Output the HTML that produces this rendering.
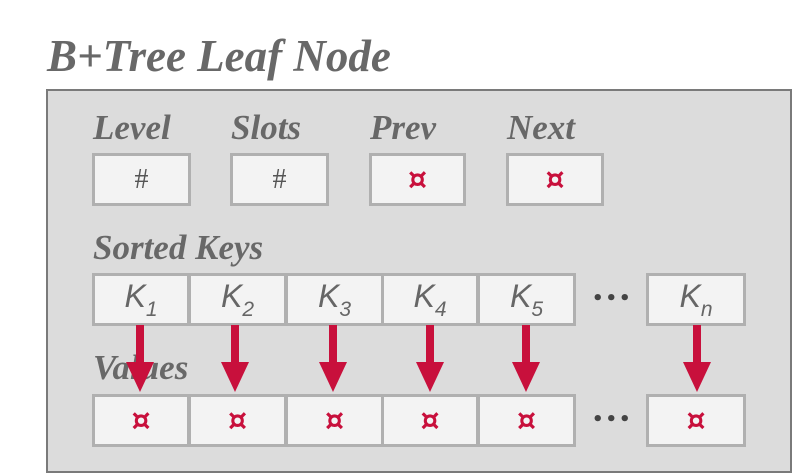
<!DOCTYPE html>
<html><head><style>
body{margin:0;width:798px;height:460px;background:#fff;position:relative;overflow:hidden;font-family:"Liberation Serif",serif;}
.t{position:absolute;font-style:italic;font-weight:bold;color:#686868;white-space:nowrap;}
.outer{position:absolute;left:46px;top:89px;width:742px;height:380px;background:#dcdcdc;border:2px solid #7a7a7a;}
.b{position:absolute;box-sizing:border-box;background:#f3f3f3;border:3px solid #b0b0b0;height:53px;display:flex;align-items:center;justify-content:center;color:#555;}
.h{font-family:"Liberation Serif",serif;font-size:28px;}
.k{font-family:"Liberation Sans",sans-serif;font-style:italic;font-size:32px;color:#666;}
.k span sub{font-size:21px;vertical-align:-9px;}
.p{color:#c8103c;font-size:30px;font-family:"DejaVu Sans",sans-serif;font-weight:bold;}
.dots{position:absolute;font-size:18px;color:#444;font-family:"DejaVu Sans",sans-serif;font-weight:bold;letter-spacing:2px;}
</style></head><body>
<div class="t" style="left:47px;top:30px;font-size:45px;">B+Tree Leaf Node</div>
<div class="outer"></div>
<div class="t" style="left:93px;top:108px;font-size:35px;">Level</div>
<div class="t" style="left:231px;top:108px;font-size:35px;">Slots</div>
<div class="t" style="left:370px;top:108px;font-size:35px;">Prev</div>
<div class="t" style="left:507px;top:108px;font-size:35px;">Next</div>
<div class="b h" style="left:92px;top:153px;width:99px;">#</div>
<div class="b h" style="left:230px;top:153px;width:99px;">#</div>
<div class="b p" style="left:369px;top:153px;width:97px;">¤</div>
<div class="b p" style="left:506px;top:153px;width:98px;">¤</div>
<div class="t" style="left:93px;top:228px;font-size:35px;">Sorted Keys</div>
<div class="b k" style="left:92px;top:273px;width:98px;"><span>K<sub>1</sub></span></div>
<div class="b k" style="left:188px;top:273px;width:99px;"><span>K<sub>2</sub></span></div>
<div class="b k" style="left:285px;top:273px;width:99px;"><span>K<sub>3</sub></span></div>
<div class="b k" style="left:381px;top:273px;width:98px;"><span>K<sub>4</sub></span></div>
<div class="b k" style="left:477px;top:273px;width:99px;"><span>K<sub>5</sub></span></div>
<div class="dots" style="left:592px;top:288px;">•••</div>
<div class="b k" style="left:646px;top:273px;width:100px;"><span>K<sub>n</sub></span></div>
<div class="t" style="left:93px;top:348px;font-size:35px;">Values</div>
<div class="b p" style="left:92px;top:394px;width:98px;">¤</div>
<div class="b p" style="left:188px;top:394px;width:99px;">¤</div>
<div class="b p" style="left:285px;top:394px;width:99px;">¤</div>
<div class="b p" style="left:381px;top:394px;width:98px;">¤</div>
<div class="b p" style="left:477px;top:394px;width:99px;">¤</div>
<div class="dots" style="left:592px;top:409px;">•••</div>
<div class="b p" style="left:646px;top:394px;width:100px;">¤</div>
<svg style="position:absolute;left:0;top:0" width="798" height="460">
<g fill="#c8103c">
<g transform="translate(140,0)"><rect x="-4" y="325" width="8" height="38"/><polygon points="-14,362 14,362 0,392"/></g>
<g transform="translate(235,0)"><rect x="-4" y="325" width="8" height="38"/><polygon points="-14,362 14,362 0,392"/></g>
<g transform="translate(333,0)"><rect x="-4" y="325" width="8" height="38"/><polygon points="-14,362 14,362 0,392"/></g>
<g transform="translate(430,0)"><rect x="-4" y="325" width="8" height="38"/><polygon points="-14,362 14,362 0,392"/></g>
<g transform="translate(526,0)"><rect x="-4" y="325" width="8" height="38"/><polygon points="-14,362 14,362 0,392"/></g>
<g transform="translate(697,0)"><rect x="-4" y="325" width="8" height="38"/><polygon points="-14,362 14,362 0,392"/></g>
</g></svg>
</body></html>
